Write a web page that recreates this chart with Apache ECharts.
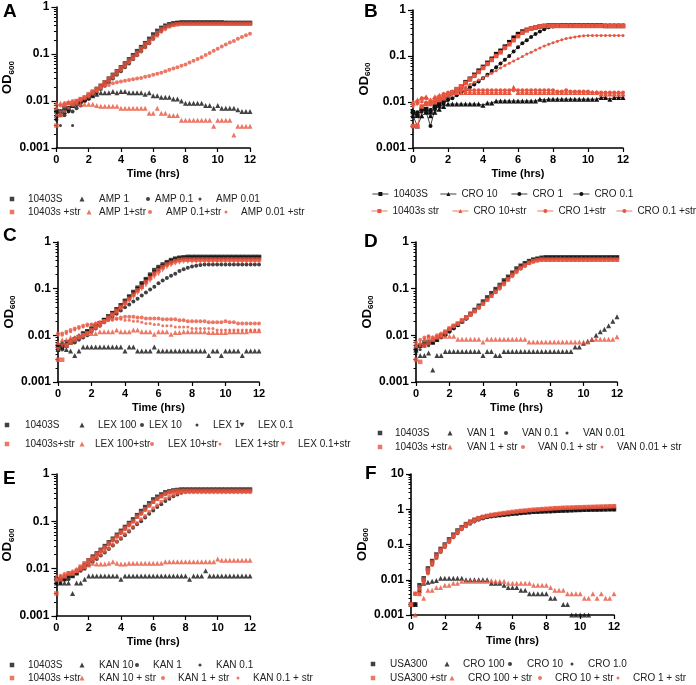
<!DOCTYPE html>
<html><head><meta charset="utf-8">
<script src="https://cdn.jsdelivr.net/npm/echarts@6/dist/echarts.min.js"></script>
<style>html,body{margin:0;padding:0;background:#fff}#c{width:696px;height:685px}</style>
</head><body><div id="c"></div>
<script>
// time points (hrs)
const T = [0,0.25,0.5,0.75,1,1.25,1.5,1.75,2,2.25,2.5,2.75,3,3.25,3.5,3.75,4,4.25,4.5,4.75,5,5.25,5.5,5.75,6,6.25,6.5,6.75,7,7.25,7.5,7.75,8,8.25,8.5,8.75,9,9.25,9.5,9.75,10,10.25,10.5,10.75,11,11.25,11.5,11.75,12];
const xTicks = [0,2,4,6,8,10,12];

// ---- Panel A ----
const a_wt = [0.006,0.006,0.007,0.007, 0.008,0.009,0.010,0.011, 0.013,0.015,0.018,0.021, 0.025,0.030,0.036,0.043, 0.052,0.063,0.077,0.094, 0.115,0.14,0.17,0.21, 0.26,0.31,0.36,0.40, 0.43,0.45,0.46,0.47, 0.47,0.47,0.47,0.47, 0.47,0.47,0.47,0.47, 0.47,0.47,0.46,0.46, 0.46,0.46,0.46,0.46, 0.46];
const a_amp1 = [0.005,0.006,0.006,0.007, 0.008,0.009,0.010,0.011, 0.012,0.013,0.014,0.015, 0.015,0.015,0.016,0.015, 0.016,0.016,0.015,0.015, 0.015,0.015,0.014,0.015, 0.013,0.013,0.012,0.012, 0.012,0.011,0.011,0.010, 0.009,0.009,0.009,0.009, 0.009,0.008,0.008,0.007, 0.008,0.007,0.007,0.007, 0.007,0.0065,0.006,0.006, 0.006];
const a_amp01 = [0.004,0.005,0.005,0.006, 0.006,0.007,0.008,0.010, 0.011,0.013,0.015,0.018, 0.021,0.025,0.030,0.036, 0.043,0.052,0.063,0.077, 0.094,0.115,0.14,0.17, 0.21,0.26,0.31,0.36, 0.40,0.43,0.45,0.46, 0.46,0.46,0.46,0.46, 0.46,0.46,0.46,0.46, 0.46,0.46,0.46,0.45, 0.45,0.45,0.45,0.45, 0.45];
const a_amp001 = [0.005,0.003,0.006,0.006, 0.003,0.008,0.009,0.010, 0.012,0.014,0.017,0.020, 0.024,0.028,0.034,0.040, 0.048,0.058,0.071,0.086, 0.105,0.13,0.16,0.19, 0.23,0.28,0.33,0.38, 0.42,0.44,0.45,0.46, 0.46,0.46,0.46,0.46, 0.46,0.46,0.46,0.46, 0.45,0.45,0.45,0.45, 0.45,0.45,0.45,0.45, 0.45];
const a_wt_s = [0.003,0.005,0.008,0.009, 0.009,0.010,0.011,0.012, 0.014,0.016,0.018,0.021, 0.025,0.029,0.035,0.042, 0.050,0.060,0.072,0.087, 0.105,0.13,0.16,0.19, 0.23,0.28,0.33,0.37, 0.40,0.42,0.43,0.44, 0.44,0.44,0.44,0.44, 0.44,0.44,0.44,0.44, 0.44,0.44,0.44,0.44, 0.44,0.44,0.44,0.44, 0.44];
const a_amp1_s = [0.009,0.009,0.009,0.0095, 0.009,0.009,0.0085,0.0085, 0.0085,0.0085,0.008,0.0077, 0.0077,0.0077,0.0077,0.0077, 0.007,0.007,0.007,0.007, 0.007,0.007,0.007,0.0055, 0.0055,0.007,0.0055,0.0055, 0.0049,0.0049,0.0049,0.0039, 0.0039,0.0039,0.0039,0.0039, 0.0039,0.0039,0.0039,0.0029, 0.0039,0.0039,0.0039,0.0039, 0.0019,0.0029,0.0029,0.0029, 0.0029];
const a_amp01_s = [0.007,0.008,0.009,0.009, 0.010,0.010,0.011,0.012, 0.013,0.015,0.017,0.019, 0.021,0.022,0.024,0.025, 0.026,0.027,0.028,0.029, 0.030,0.031,0.033,0.034, 0.036,0.038,0.040,0.043, 0.046,0.049,0.052,0.056, 0.060,0.066,0.072,0.078, 0.085,0.095,0.105,0.117, 0.13,0.145,0.16,0.175, 0.19,0.21,0.23,0.25, 0.27];
const a_amp001_s = [0.005,0.006,0.006,0.007, 0.008,0.009,0.010,0.011, 0.012,0.014,0.016,0.019, 0.022,0.026,0.031,0.037, 0.044,0.053,0.064,0.077, 0.093,0.11,0.135,0.165, 0.20,0.24,0.29,0.33, 0.37,0.40,0.42,0.43, 0.43,0.43,0.43,0.43, 0.43,0.43,0.43,0.43, 0.43,0.43,0.43,0.43, 0.43,0.43,0.43,0.43, 0.43];

// ---- Panel B ----
const b_wt = [0.006,0.005,0.007,0.007, 0.006,0.008,0.009,0.011, 0.014,0.016,0.019,0.022, 0.027,0.032,0.039,0.048, 0.058,0.071,0.087,0.11, 0.13,0.16,0.20,0.25, 0.30,0.34,0.37,0.40, 0.42,0.44,0.45,0.46, 0.46,0.46,0.46,0.46, 0.46,0.46,0.46,0.46, 0.46,0.46,0.46,0.46, 0.45,0.45,0.45,0.45, 0.45];
const b_cro10 = [0.005,0.003,0.005,0.006, 0.005,0.006,0.007,0.008, 0.009,0.009,0.009,0.009, 0.009,0.009,0.009,0.009, 0.0085,0.0095,0.0095,0.0105, 0.0105,0.0105,0.0105,0.0105, 0.0105,0.0105,0.0105,0.0105, 0.0105,0.0115,0.011,0.0115, 0.0115,0.0115,0.0115,0.0115, 0.0115,0.0115,0.0115,0.0115, 0.0115,0.0115,0.0115,0.0125, 0.0125,0.0115,0.0125,0.0125, 0.0125];
const b_cro1 = [0.006,0.006,0.007,0.006, 0.003,0.007,0.008,0.009, 0.011,0.012,0.014,0.016, 0.018,0.021,0.024,0.028, 0.033,0.039,0.047,0.057, 0.069,0.083,0.10,0.125, 0.155,0.19,0.22,0.26, 0.30,0.34,0.38,0.42, 0.44,0.45,0.46,0.46, 0.46,0.46,0.46,0.46, 0.46,0.46,0.46,0.46, 0.46,0.46,0.46,0.46, 0.46];
const b_cro01 = [0.005,0.006,0.006,0.007, 0.007,0.008,0.009,0.010, 0.012,0.015,0.017,0.020, 0.025,0.030,0.036,0.044, 0.054,0.066,0.081,0.10, 0.12,0.15,0.18,0.23, 0.28,0.32,0.36,0.39, 0.41,0.43,0.44,0.45, 0.45,0.45,0.45,0.45, 0.45,0.45,0.45,0.45, 0.45,0.45,0.45,0.45, 0.45,0.45,0.45,0.45, 0.45];
const b_wt_s = [0.003,0.003,0.008,0.009, 0.009,0.010,0.011,0.012, 0.014,0.016,0.019,0.022, 0.026,0.031,0.037,0.045, 0.055,0.067,0.082,0.10, 0.12,0.15,0.18,0.22, 0.27,0.32,0.36,0.40, 0.42,0.44,0.45,0.45, 0.45,0.45,0.45,0.45, 0.45,0.45,0.45,0.45, 0.45,0.45,0.45,0.45, 0.45,0.45,0.45,0.45, 0.45];
const b_cro10_s = [0.010,0.011,0.012,0.013, 0.011,0.013,0.014,0.015, 0.015,0.016,0.016,0.016, 0.016,0.016,0.016,0.016, 0.016,0.016,0.016,0.016, 0.016,0.016,0.016,0.021, 0.016,0.016,0.016,0.016, 0.016,0.016,0.016,0.016, 0.016,0.016,0.016,0.016, 0.016,0.016,0.016,0.016, 0.016,0.016,0.016,0.015, 0.015,0.015,0.015,0.015, 0.015];
const b_cro1_s = [0.009,0.010,0.012,0.012, 0.010,0.012,0.013,0.015, 0.016,0.017,0.017,0.018, 0.018,0.018,0.018,0.018, 0.018,0.018,0.018,0.018, 0.018,0.018,0.018,0.018, 0.018,0.018,0.018,0.018, 0.018,0.018,0.018,0.018, 0.018,0.017,0.017,0.018, 0.017,0.017,0.017,0.017, 0.017,0.016,0.016,0.016, 0.016,0.016,0.016,0.016, 0.016];
const b_cro01_s = [0.008,0.009,0.010,0.010, 0.010,0.011,0.012,0.013, 0.014,0.015,0.017,0.019, 0.021,0.024,0.027,0.030, 0.033,0.037,0.042,0.048, 0.055,0.062,0.070,0.078, 0.087,0.097,0.11,0.12, 0.135,0.15,0.165,0.18, 0.195,0.21,0.225,0.24, 0.25,0.26,0.27,0.275, 0.28,0.28,0.28,0.28, 0.28,0.28,0.28,0.28, 0.28];

// ---- Panel C ----
const c_wt = [0.006,0.006,0.006,0.007, 0.008,0.009,0.011,0.012, 0.014,0.016,0.018,0.021, 0.025,0.030,0.036,0.044, 0.055,0.068,0.085,0.105, 0.13,0.16,0.20,0.25, 0.29,0.33,0.37,0.41, 0.44,0.46,0.47,0.48, 0.48,0.48,0.48,0.48, 0.48,0.48,0.48,0.48, 0.48,0.48,0.48,0.48, 0.48,0.48,0.48,0.48, 0.48];
const c_lex100 = [0.005,0.0056,0.005,0.0046, 0.0037,0.0046,0.0056,0.0056, 0.0056,0.0056,0.0056,0.0056, 0.0056,0.0056,0.0056,0.0056, 0.0046,0.0056,0.0056,0.0046, 0.0046,0.0046,0.0046,0.0056, 0.0046,0.0046,0.0046,0.0046, 0.0046,0.0046,0.0046,0.0046, 0.0046,0.0046,0.0046,0.0046, 0.0037,0.0046,0.0046,0.0037, 0.0046,0.0046,0.0046,0.0046, 0.0037,0.0046,0.0046,0.0046, 0.0046];
const c_lex10 = [0.005,0.005,0.006,0.007, 0.007,0.008,0.009,0.010, 0.012,0.014,0.016,0.019, 0.022,0.025,0.029,0.034, 0.040,0.046,0.053,0.061, 0.071,0.083,0.096,0.11, 0.13,0.15,0.17,0.19, 0.21,0.24,0.26,0.28, 0.30,0.31,0.32,0.33, 0.33,0.33,0.33,0.33, 0.33,0.33,0.33,0.33, 0.33,0.33,0.33,0.33, 0.33];
const c_lex1 = [0.006,0.007,0.007,0.008, 0.009,0.010,0.011,0.012, 0.013,0.015,0.017,0.020, 0.024,0.028,0.034,0.041, 0.050,0.061,0.075,0.092, 0.11,0.14,0.17,0.21, 0.25,0.29,0.33,0.37, 0.40,0.42,0.43,0.44, 0.44,0.44,0.44,0.44, 0.44,0.44,0.44,0.44, 0.44,0.44,0.44,0.44, 0.44,0.44,0.44,0.44, 0.44];
const c_lex01 = [0.005,0.006,0.007,0.007, 0.008,0.009,0.010,0.012, 0.013,0.015,0.018,0.021, 0.025,0.029,0.035,0.042, 0.051,0.063,0.078,0.096, 0.12,0.15,0.18,0.22, 0.26,0.30,0.34,0.38, 0.41,0.43,0.44,0.45, 0.45,0.45,0.45,0.45, 0.45,0.45,0.45,0.45, 0.45,0.45,0.45,0.45, 0.45,0.45,0.45,0.45, 0.45];
const c_wt_s = [0.003,0.003,0.006,0.007, 0.008,0.009,0.010,0.011, 0.013,0.015,0.017,0.020, 0.024,0.028,0.034,0.041, 0.050,0.061,0.075,0.092, 0.11,0.14,0.17,0.21, 0.25,0.29,0.33,0.36, 0.39,0.41,0.42,0.42, 0.42,0.42,0.42,0.42, 0.42,0.42,0.42,0.42, 0.42,0.42,0.42,0.42, 0.42,0.42,0.42,0.42, 0.42];
const c_lex100_s = [0.007,0.008,0.008,0.009, 0.009,0.010,0.010,0.011, 0.011,0.011,0.012,0.012, 0.012,0.012,0.013,0.012, 0.012,0.012,0.013,0.013, 0.012,0.012,0.012,0.0105, 0.012,0.012,0.012,0.0105, 0.0115,0.0115,0.012,0.012, 0.012,0.012,0.012,0.012, 0.0115,0.0115,0.0115,0.0115, 0.0115,0.012,0.012,0.012, 0.012,0.012,0.0125,0.0125, 0.0125];
const c_lex10_s = [0.011,0.011,0.012,0.013, 0.014,0.015,0.016,0.017, 0.017,0.018,0.019,0.020, 0.021,0.022,0.023,0.024, 0.025,0.025,0.025,0.024, 0.024,0.023,0.023,0.023, 0.023,0.022,0.022,0.022, 0.022,0.021,0.021,0.020, 0.020,0.020,0.020,0.020, 0.019,0.019,0.019,0.019, 0.020,0.019,0.019,0.018, 0.018,0.018,0.018,0.018, 0.018];
const c_lex1_s = [0.010,0.010,0.011,0.012, 0.013,0.014,0.015,0.016, 0.017,0.018,0.019,0.020, 0.021,0.021,0.022,0.022, 0.021,0.021,0.020,0.020, 0.019,0.018,0.018,0.017, 0.017,0.016,0.016,0.016, 0.015,0.015,0.015,0.015, 0.014,0.014,0.014,0.014, 0.014,0.014,0.013,0.013, 0.013,0.013,0.013,0.013, 0.013,0.013,0.013,0.013, 0.013];
const c_lex01_s = [0.005,0.006,0.006,0.007, 0.008,0.009,0.010,0.011, 0.012,0.014,0.016,0.019, 0.022,0.026,0.031,0.037, 0.045,0.055,0.067,0.082, 0.10,0.12,0.15,0.18, 0.21,0.25,0.29,0.32, 0.35,0.37,0.38,0.38, 0.38,0.38,0.38,0.38, 0.38,0.38,0.38,0.38, 0.38,0.38,0.38,0.38, 0.38,0.38,0.38,0.38, 0.38];

// ---- Panel D ----
const d_wt = [0.005,0.006,0.007,0.007, 0.007,0.008,0.010,0.011, 0.013,0.015,0.017,0.020, 0.024,0.029,0.035,0.043, 0.053,0.065,0.080,0.098, 0.12,0.15,0.18,0.22, 0.27,0.31,0.35,0.39, 0.42,0.44,0.46,0.47, 0.47,0.47,0.47,0.47, 0.47,0.47,0.47,0.47, 0.47,0.47,0.47,0.47, 0.47,0.47,0.47,0.47, 0.47];
const d_van1 = [0.0048,0.0037,0.0037,0.0042, 0.0018,0.0037,0.0037,0.0045, 0.0045,0.0045,0.0045,0.0045, 0.0045,0.0045,0.0045,0.0045, 0.0037,0.0045,0.0045,0.0037, 0.0037,0.0045,0.0045,0.0045, 0.0045,0.0045,0.0045,0.0045, 0.0045,0.0045,0.0045,0.0045, 0.0045,0.0045,0.0045,0.0045, 0.0045,0.0045,0.0056,0.0056, 0.0068,0.0075,0.0081,0.010, 0.012,0.0135,0.016,0.020, 0.025];
const d_van01 = [0.006,0.006,0.006,0.007, 0.007,0.008,0.009,0.010, 0.012,0.014,0.017,0.020, 0.023,0.028,0.034,0.041, 0.050,0.061,0.075,0.092, 0.11,0.14,0.17,0.21, 0.25,0.30,0.34,0.38, 0.41,0.43,0.45,0.46, 0.46,0.46,0.46,0.46, 0.46,0.46,0.46,0.46, 0.46,0.46,0.46,0.46, 0.46,0.46,0.46,0.46, 0.46];
const d_van001 = [0.004,0.005,0.006,0.006, 0.007,0.008,0.009,0.010, 0.012,0.014,0.016,0.019, 0.022,0.027,0.032,0.039, 0.048,0.059,0.072,0.088, 0.11,0.13,0.16,0.20, 0.24,0.29,0.33,0.37, 0.40,0.42,0.44,0.45, 0.45,0.45,0.45,0.45, 0.45,0.45,0.45,0.45, 0.45,0.45,0.45,0.45, 0.45,0.45,0.45,0.45, 0.45];
const d_wt_s = [0.003,0.0027,0.006,0.007, 0.008,0.009,0.010,0.012, 0.014,0.016,0.018,0.021, 0.024,0.028,0.033,0.040, 0.048,0.058,0.071,0.087, 0.11,0.13,0.16,0.20, 0.24,0.28,0.32,0.36, 0.39,0.41,0.42,0.42, 0.42,0.42,0.42,0.42, 0.42,0.42,0.42,0.42, 0.42,0.42,0.42,0.42, 0.42,0.42,0.42,0.42, 0.42];
const d_van1_s = [0.006,0.007,0.008,0.009, 0.009,0.0095,0.0095,0.0095, 0.0095,0.0095,0.0082,0.0082, 0.0082,0.0082,0.0082,0.0082, 0.0072,0.0082,0.0082,0.0082, 0.0082,0.0082,0.0082,0.0082, 0.0082,0.0082,0.0082,0.0072, 0.0072,0.0072,0.0072,0.0072, 0.0072,0.0072,0.0072,0.0072, 0.0072,0.0072,0.0072,0.0072, 0.0072,0.0072,0.0082,0.0082, 0.0082,0.0082,0.0082,0.0082, 0.0093];
const d_van01_s = [0.007,0.008,0.009,0.0095, 0.009,0.010,0.011,0.012, 0.014,0.016,0.018,0.021, 0.024,0.028,0.033,0.039, 0.047,0.057,0.069,0.084, 0.10,0.125,0.155,0.19, 0.23,0.27,0.31,0.35, 0.38,0.40,0.41,0.41, 0.41,0.41,0.41,0.41, 0.41,0.41,0.41,0.41, 0.41,0.41,0.41,0.41, 0.41,0.41,0.41,0.41, 0.41];
const d_van001_s = [0.006,0.006,0.0085,0.0095, 0.008,0.009,0.010,0.011, 0.013,0.015,0.017,0.020, 0.023,0.027,0.032,0.038, 0.046,0.056,0.068,0.083, 0.10,0.12,0.15,0.18, 0.22,0.26,0.30,0.34, 0.37,0.39,0.40,0.40, 0.40,0.40,0.40,0.40, 0.40,0.40,0.40,0.40, 0.40,0.40,0.40,0.40, 0.40,0.40,0.40,0.40, 0.40];

// ---- Panel E ----
const e_wt = [0.006,0.006,0.006,0.007, 0.007,0.008,0.010,0.012, 0.015,0.018,0.021,0.025, 0.030,0.036,0.043,0.052, 0.063,0.076,0.092,0.11, 0.135,0.165,0.20,0.24, 0.29,0.33,0.37,0.41, 0.43,0.45,0.46,0.47, 0.47,0.47,0.47,0.47, 0.47,0.47,0.47,0.47, 0.47,0.47,0.47,0.47, 0.47,0.47,0.47,0.47, 0.47];
const e_kan10 = [0.005,0.005,0.005,0.005, 0.003,0.005,0.005,0.006, 0.007,0.007,0.007,0.007, 0.007,0.007,0.007,0.007, 0.006,0.007,0.007,0.007, 0.007,0.007,0.007,0.007, 0.007,0.007,0.007,0.007, 0.007,0.007,0.007,0.007, 0.007,0.006,0.007,0.007, 0.007,0.009,0.007,0.007, 0.007,0.007,0.007,0.007, 0.007,0.007,0.007,0.007, 0.007];
const e_kan1 = [0.005,0.005,0.006,0.006, 0.007,0.008,0.009,0.010, 0.012,0.014,0.016,0.019, 0.022,0.026,0.031,0.037, 0.043,0.051,0.061,0.073, 0.087,0.10,0.12,0.145, 0.17,0.20,0.23,0.27, 0.30,0.34,0.37,0.40, 0.42,0.43,0.43,0.44, 0.44,0.44,0.44,0.44, 0.44,0.44,0.44,0.44, 0.44,0.44,0.44,0.44, 0.44];
const e_kan01 = [0.006,0.006,0.007,0.007, 0.008,0.009,0.010,0.012, 0.014,0.016,0.019,0.023, 0.027,0.032,0.039,0.047, 0.056,0.068,0.082,0.10, 0.12,0.145,0.175,0.21, 0.25,0.29,0.33,0.37, 0.40,0.43,0.45,0.46, 0.46,0.46,0.46,0.46, 0.46,0.46,0.46,0.46, 0.46,0.46,0.46,0.46, 0.46,0.46,0.46,0.46, 0.46];
const e_wt_s = [0.003,0.006,0.007,0.008, 0.008,0.009,0.011,0.013, 0.015,0.017,0.020,0.024, 0.028,0.034,0.041,0.049, 0.059,0.071,0.086,0.10, 0.125,0.15,0.18,0.22, 0.26,0.30,0.34,0.38, 0.41,0.43,0.44,0.44, 0.44,0.44,0.44,0.44, 0.44,0.44,0.44,0.44, 0.44,0.44,0.44,0.44, 0.44,0.44,0.44,0.44, 0.44];
const e_kan10_s = [0.006,0.007,0.007,0.008, 0.008,0.009,0.010,0.011, 0.012,0.013,0.0125,0.0125, 0.0125,0.013,0.014,0.013, 0.0125,0.0125,0.013,0.013, 0.013,0.013,0.013,0.013, 0.013,0.013,0.013,0.014, 0.014,0.014,0.014,0.014, 0.014,0.014,0.014,0.014, 0.014,0.014,0.014,0.014, 0.016,0.015,0.015,0.015, 0.015,0.015,0.015,0.015, 0.015];
const e_kan1_s = [0.006,0.007,0.007,0.008, 0.008,0.009,0.010,0.011, 0.013,0.015,0.017,0.020, 0.023,0.027,0.032,0.038, 0.045,0.054,0.064,0.077, 0.092,0.11,0.13,0.16, 0.19,0.22,0.26,0.30, 0.33,0.36,0.39,0.40, 0.41,0.41,0.41,0.41, 0.41,0.41,0.41,0.41, 0.41,0.41,0.41,0.41, 0.41,0.41,0.41,0.41, 0.41];
const e_kan01_s = [0.007,0.007,0.008,0.008, 0.009,0.010,0.011,0.012, 0.014,0.017,0.020,0.023, 0.027,0.032,0.038,0.046, 0.055,0.066,0.080,0.097, 0.12,0.14,0.17,0.21, 0.25,0.29,0.33,0.37, 0.40,0.42,0.43,0.43, 0.43,0.43,0.43,0.43, 0.43,0.43,0.43,0.43, 0.43,0.43,0.43,0.43, 0.43,0.43,0.43,0.43, 0.43];

// ---- Panel F ----
const f_wt = [0.002,0.002,0.007,0.011, 0.021,0.034,0.052,0.075, 0.10,0.14,0.19,0.25, 0.31,0.38,0.44,0.50, 0.55,0.59,0.62,0.65, 0.67,0.69,0.71,0.73, 0.75,0.77,0.79,0.81, 0.83,0.85,0.86,0.87, 0.88,0.89,0.90,0.91, 0.92,0.93,0.94,0.95, 0.96,0.97,0.97,0.98, 0.98,0.99,0.99,1.0, 1.0];
const f_cro100 = [0.002,0.002,0.005,0.008, 0.0085,0.009,0.0095,0.011, 0.011,0.011,0.011,0.011, 0.011,0.010,0.010,0.010, 0.010,0.010,0.010,0.008, 0.008,0.008,0.007,0.006, 0.006,0.006,0.005,0.005, 0.004,0.004,0.004,0.004, 0.004,0.003,0.003,null, 0.002,0.002,0.001,0.001, 0.001,0.001,0.001,null, null,null,null,null, null];
const f_cro10 = [0.002,0.002,0.005,0.009, 0.016,0.027,0.042,0.062, 0.085,0.12,0.16,0.21, 0.27,0.33,0.39,0.45, 0.50,0.55,0.59,0.62, 0.65,0.67,0.69,0.71, 0.73,0.75,0.77,0.79, 0.81,0.83,0.84,0.85, 0.86,0.87,0.88,0.89, 0.90,0.91,0.92,0.93, 0.94,0.95,0.96,0.96, 0.97,0.97,0.98,0.98, 0.99];
const f_cro1 = [0.002,0.002,0.006,0.010, 0.018,0.030,0.047,0.068, 0.093,0.13,0.17,0.23, 0.29,0.35,0.41,0.47, 0.52,0.57,0.61,0.64, 0.66,0.68,0.70,0.72, 0.74,0.76,0.78,0.80, 0.82,0.84,0.85,0.86, 0.87,0.88,0.89,0.90, 0.91,0.92,0.93,0.94, 0.95,0.96,0.96,0.97, 0.97,0.98,0.98,0.99, 0.99];
const f_wt_s = [0.002,0.004,0.006,0.010, 0.019,0.031,0.048,0.070, 0.095,0.13,0.18,0.24, 0.30,0.37,0.44,0.50, 0.56,0.61,0.65,0.69, 0.72,0.75,0.78,0.81, 0.84,0.87,0.90,0.92, 0.95,0.97,0.99,1.01, 1.03,1.05,1.07,1.08, 1.10,1.11,1.12,1.13, 1.14,1.15,1.16,1.17, 1.18,1.19,1.20,1.21, 1.22];
const f_cro100_s = [0.002,0.001,0.004,0.003, 0.005,0.005,0.006,0.006, 0.007,0.007,0.008,0.008, 0.009,0.009,0.009,0.009, 0.009,0.009,0.009,0.0095, 0.009,0.009,0.009,0.008, 0.008,0.008,0.008,0.008, 0.008,0.007,0.007,0.007, 0.007,0.006,0.005,0.005, 0.005,0.004,0.004,0.004, 0.004,0.003,0.003,0.004, 0.003,0.004,0.003,0.003, 0.004];
const f_cro10_s = [0.002,0.004,0.004,0.008, 0.015,0.026,0.041,0.060, 0.083,0.115,0.16,0.21, 0.27,0.33,0.40,0.46, 0.52,0.57,0.62,0.66, 0.70,0.73,0.76,0.79, 0.82,0.85,0.88,0.91, 0.94,0.96,0.98,1.00, 1.02,1.04,1.06,1.07, 1.09,1.10,1.11,1.12, 1.13,1.14,1.15,1.16, 1.17,1.18,1.19,1.20, 1.21];
const f_cro1_s = [0.002,0.004,0.005,0.009, 0.017,0.029,0.045,0.066, 0.09,0.125,0.17,0.22, 0.28,0.35,0.42,0.48, 0.54,0.59,0.64,0.68, 0.71,0.74,0.77,0.80, 0.83,0.86,0.89,0.92, 0.95,0.97,0.99,1.01, 1.03,1.05,1.07,1.09, 1.11,1.13,1.14,1.15, 1.16,1.17,1.18,1.19, 1.20,1.21,1.22,1.23, 1.24];

// y tick values
const yMinor3 = [0.002,0.003,0.004,0.005,0.006,0.007,0.008,0.009,0.02,0.03,0.04,0.05,0.06,0.07,0.08,0.09,0.2,0.3,0.4,0.5,0.6,0.7,0.8,0.9];
const yMinor4 = yMinor3.concat([2,3,4,5,6,7,8,9]);

// ---------- styling / layout ----------
const K = '#111111', R = '#e8553f';
const FONT = 'Liberation Sans, Arial, sans-serif';
const SYM = {
  sq: {symbol: 'rect', size: 4.5},
  tri: {symbol: 'triangle', size: 5},
  cir: {symbol: 'circle', size: 4},
  dot: {symbol: 'circle', size: 3},
  inv: {symbol: 'path://M0,0L10,0L5,9Z', size: 5}
};

const panels = [
  {key: 'A', grid: {left: 48, top: 7, width: 202, height: 141}, ymax: 1, gapY: 33, title: [3, 2],
   series: [['10403S', a_wt, 'sq', K], ['AMP 1', a_amp1, 'tri', K], ['AMP 0.1', a_amp01, 'cir', K], ['AMP 0.01', a_amp001, 'dot', K],
            ['10403s +str', a_wt_s, 'sq', R], ['AMP 1+str', a_amp1_s, 'tri', R], ['AMP 0.1+str', a_amp01_s, 'cir', R], ['AMP 0.01 +str', a_amp001_s, 'dot', R]],
   rows: [{y: 198, items: [[12, 28], [82, 99], [148, 154], [200, 216]]}, {y: 211, items: [[12, 28], [89, 99], [150, 166], [226, 241]]}]},
  {key: 'B', grid: {left: 413, top: 10, width: 210, height: 138}, ymax: 1, gapY: 35, title: [364, 2], line: true,
   series: [['10403S', b_wt, 'sq', K], ['CRO 10', b_cro10, 'tri', K], ['CRO 1', b_cro1, 'cir', K], ['CRO 0.1', b_cro01, 'dot', K],
            ['10403s str', b_wt_s, 'sq', R], ['CRO 10+str', b_cro10_s, 'tri', R], ['CRO 1+str', b_cro1_s, 'cir', R], ['CRO 0.1 +str', b_cro01_s, 'dot', R]],
   rows: [{y: 193, items: [[377, 393], [444, 461], [512, 532], [581, 594]]}, {y: 210, items: [[377, 392], [459, 473], [542, 558], [621, 637]]}]},
  {key: 'C', grid: {left: 58, top: 242, width: 201, height: 140}, ymax: 1, gapY: 40, title: [3, 226],
   series: [['10403S', c_wt, 'sq', K], ['LEX 100', c_lex100, 'tri', K], ['LEX 10', c_lex10, 'cir', K], ['LEX 1', c_lex1, 'dot', K], ['LEX 0.1', c_lex01, 'inv', K],
            ['10403s+str', c_wt_s, 'sq', R], ['LEX 100+str', c_lex100_s, 'tri', R], ['LEX 10+str', c_lex10_s, 'cir', R], ['LEX 1+str', c_lex1_s, 'dot', R], ['LEX 0.1+str', c_lex01_s, 'inv', R]],
   rows: [{y: 424, items: [[7, 25], [82, 98], [142, 147], [197, 213], [242, 258]]}, {y: 443, items: [[7, 25], [82, 95], [152, 168], [220, 235], [283, 298]]}]},
  {key: 'D', grid: {left: 416, top: 242, width: 201, height: 140}, ymax: 1, gapY: 36, title: [364, 232],
   series: [['10403S', d_wt, 'sq', K], ['VAN 1', d_van1, 'tri', K], ['VAN 0.1', d_van01, 'cir', K], ['VAN 0.01', d_van001, 'dot', K],
            ['10403s +str', d_wt_s, 'sq', R], ['VAN 1 + str', d_van1_s, 'tri', R], ['VAN 0.1 + str', d_van01_s, 'cir', R], ['VAN 0.01 + str', d_van001_s, 'dot', R]],
   rows: [{y: 432, items: [[380, 395], [450, 467], [506, 522], [567, 583]]}, {y: 446, items: [[380, 395], [450, 467], [523, 538], [602, 617]]}]},
  {key: 'E', grid: {left: 49, top: 474, width: 201, height: 142}, ymax: 1, gapY: 33, title: [3, 469],
   series: [['10403S', e_wt, 'sq', K], ['KAN 10', e_kan10, 'tri', K], ['KAN 1', e_kan1, 'cir', K], ['KAN 0.1', e_kan01, 'dot', K],
            ['10403s +str', e_wt_s, 'sq', R], ['KAN 10 + str', e_kan10_s, 'tri', R], ['KAN 1 + str', e_kan1_s, 'cir', R], ['KAN 0.1 + str', e_kan01_s, 'dot', R]],
   rows: [{y: 664, items: [[12, 28], [82, 99], [137, 153], [200, 216]]}, {y: 677, items: [[12, 28], [82, 99], [163, 178], [238, 253]]}]},
  {key: 'F', grid: {left: 411, top: 474, width: 203, height: 141}, ymax: 10, gapY: 33, title: [365, 464],
   series: [['USA300', f_wt, 'sq', K], ['CRO 100', f_cro100, 'tri', K], ['CRO 10', f_cro10, 'cir', K], ['CRO 1.0', f_cro1, 'dot', K],
            ['USA300 +str', f_wt_s, 'sq', R], ['CRO 100 + str', f_cro100_s, 'tri', R], ['CRO 10 + str', f_cro10_s, 'cir', R], ['CRO 1 + str', f_cro1_s, 'dot', R]],
   rows: [{y: 663, items: [[373, 390], [447, 463], [510, 527], [572, 588]]}, {y: 677, items: [[373, 390], [452, 468], [540, 555], [618, 633]]}]}
];

const grids = [], xAxes = [], yAxes = [], series = [], legends = [], titles = [];
const fmtY = v => String(+(+v).toPrecision(2));

panels.forEach((p, pi) => {
  grids.push(Object.assign({containLabel: false}, p.grid));
  titles.push({text: p.key, left: p.title[0], top: p.title[1], padding: 0,
    textStyle: {fontSize: 19, fontWeight: 'bold', color: '#000', fontFamily: FONT}});
  xAxes.push({type: 'value', gridIndex: pi, min: 0, max: 12, interval: 2,
    axisLine: {show: true, onZero: false, lineStyle: {color: '#000', width: 1.6}},
    axisTick: {show: true, length: 4, lineStyle: {color: '#000', width: 1.2}},
    axisLabel: {color: '#000', fontWeight: 'bold', fontSize: 11, margin: 6, fontFamily: FONT,
      customValues: xTicks},
    splitLine: {show: false},
    name: 'Time (hrs)', nameLocation: 'middle', nameGap: 20,
    nameTextStyle: {fontWeight: 'bold', fontSize: 11, color: '#000', fontFamily: FONT}});
  yAxes.push({type: 'log', logBase: 10, gridIndex: pi, min: 0.001, max: p.ymax, position: 'left',
    axisLine: {show: true, onZero: false, lineStyle: {color: '#000', width: 1.6}},
    axisTick: {show: true, length: 5, lineStyle: {color: '#000', width: 1.2}},
    axisLabel: {color: '#000', fontWeight: 'bold', fontSize: 12, margin: 7, fontFamily: FONT, formatter: fmtY},
    splitLine: {show: false}, minorTick: {show: false},
    name: '{a|OD}{b|600}', nameLocation: 'middle', nameRotate: 90, nameGap: p.gapY,
    nameTextStyle: {rich: {
      a: {fontSize: 13, fontWeight: 'bold', color: '#000', fontFamily: FONT, lineHeight: 16},
      b: {fontSize: 8, fontWeight: 'bold', color: '#000', fontFamily: FONT, lineHeight: 9, verticalAlign: 'bottom'}}}});
});
// minor-tick companion axes
panels.forEach((p, pi) => {
  yAxes.push({type: 'log', logBase: 10, gridIndex: pi, min: 0.001, max: p.ymax, position: 'left',
    axisLine: {show: false}, axisLabel: {show: false}, splitLine: {show: false},
    axisTick: {show: true, length: 2.5, lineStyle: {color: '#000', width: 1},
      customValues: p.ymax > 1 ? yMinor4 : yMinor3}});
});

panels.forEach((p, pi) => {
  const half = p.series.length / 2;
  p.series.forEach((s, si) => {
    const [nm, vals, sk, col] = s;
    const full = p.key + '|' + nm;
    const base = {name: full, xAxisIndex: pi, yAxisIndex: pi, animation: false, silent: true,
      data: T.map((t, k) => [t, vals[k]]),
      symbol: SYM[sk].symbol, symbolSize: SYM[sk].size, itemStyle: {color: col}};
    if (p.line) {
      series.push(Object.assign(base, {type: 'line', showSymbol: true, connectNulls: false,
        lineStyle: {color: col, width: 0.8}}));
    } else {
      series.push(Object.assign(base, {type: 'scatter'}));
    }
    const row = p.rows[si < half ? 0 : 1];
    const [c, st] = row.items[si < half ? si : si - half];
    const H = p.line ? 5 : SYM[sk].size;
    const W = p.line ? 16 : H;
    const left = p.line ? st - 5 - W : c - H / 2;
    const gap = Math.max(0, st - (left + W + 5));
    legends.push({data: [full], left: left, top: row.y - 4, padding: 0,
      itemWidth: W, itemHeight: H, itemGap: 0, selectedMode: false,
      lineStyle: {width: 0.8},
      formatter: n => (gap > 0.5 ? '{g| }' : '') + n.split('|')[1],
      textStyle: {fontSize: 10, color: '#222', fontFamily: FONT, rich: {g: {width: gap}}}});
  });
});

const chart = echarts.init(document.getElementById('c'), null, {renderer: 'canvas'});
chart.setOption({
  backgroundColor: '#fff', animation: false,
  textStyle: {fontFamily: FONT},
  title: titles, grid: grids, xAxis: xAxes, yAxis: yAxes, legend: legends, series: series
});
</script></body></html>
